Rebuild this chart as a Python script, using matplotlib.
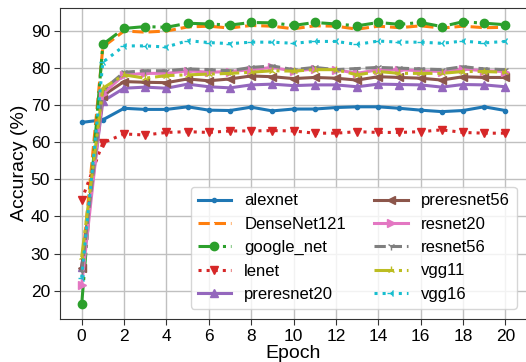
import matplotlib.pyplot as plt
import numpy as np

plt.rcParams['font.family'] = ['Liberation Sans', 'DejaVu Sans']

epochs = np.arange(21)

alexnet = [65.3, 66.0, 69.1, 68.8, 68.8, 69.5, 68.6, 68.5, 69.4, 68.4, 68.9,
           68.9, 69.3, 69.5, 69.5, 69.1, 68.6, 68.2, 68.5, 69.5, 68.5]
densenet121 = [25.5, 85.6, 89.9, 89.6, 89.9, 91.0, 91.2, 90.7, 91.4, 91.2, 90.5,
               91.3, 91.2, 90.4, 91.2, 90.8, 91.3, 90.7, 91.2, 90.8, 90.9]
google_net = [16.3, 86.3, 90.6, 91.1, 90.9, 92.0, 91.8, 91.5, 92.2, 92.1, 91.4,
              92.2, 91.8, 91.3, 92.2, 91.7, 92.2, 91.1, 92.4, 92.0, 91.6]
lenet = [44.4, 59.8, 62.2, 61.9, 62.6, 62.8, 62.6, 63.0, 63.0, 63.1, 63.0,
         62.4, 62.4, 62.8, 62.6, 62.6, 62.8, 63.3, 62.6, 62.4, 62.4]
preresnet20 = [26.5, 71.0, 74.5, 74.8, 74.5, 75.6, 74.9, 74.6, 75.4, 75.6, 75.2,
               75.4, 75.4, 74.9, 75.6, 75.5, 75.4, 74.8, 75.5, 75.4, 74.9]
preresnet56 = [26.0, 72.5, 76.3, 76.1, 76.0, 77.0, 76.5, 77.0, 77.8, 77.6, 77.1,
               77.4, 77.2, 76.7, 77.6, 77.4, 77.2, 76.7, 77.6, 77.4, 77.4]
resnet20 = [21.5, 73.0, 78.1, 78.5, 78.5, 79.2, 78.8, 79.0, 79.5, 80.1, 79.1,
            79.7, 79.5, 78.5, 79.5, 79.5, 79.2, 79.0, 79.7, 79.2, 79.0]
resnet56 = [25.0, 74.0, 78.8, 79.2, 79.2, 79.7, 79.5, 79.2, 80.1, 80.5, 79.5,
            80.1, 79.5, 79.8, 80.1, 79.9, 79.7, 79.5, 80.3, 79.7, 79.5]
vgg11 = [29.0, 74.5, 78.1, 77.2, 77.9, 78.1, 78.3, 78.5, 78.8, 79.2, 79.1,
         79.5, 79.5, 78.1, 79.0, 78.5, 78.5, 78.5, 79.0, 79.0, 78.8]
vgg16 = [23.5, 81.5, 85.9, 85.9, 85.6, 87.3, 86.8, 86.5, 86.9, 86.9, 86.6,
         87.1, 87.1, 86.3, 87.2, 86.9, 86.9, 86.6, 87.2, 86.7, 87.1]

series = [
    ('alexnet', alexnet, '-', '.'),
    ('DenseNet121', densenet121, '--', ','),
    ('google_net', google_net, '-.', 'o'),
    ('lenet', lenet, ':', 'v'),
    ('preresnet20', preresnet20, '-', '^'),
    ('preresnet56', preresnet56, '-', '<'),
    ('resnet20', resnet20, '-', '>'),
    ('resnet56', resnet56, '--', '1'),
    ('vgg11', vgg11, '-.', '2'),
    ('vgg16', vgg16, ':', '3'),
]

fig = plt.figure(figsize=(5.26, 3.62), dpi=100)
ax = fig.add_axes([0.115, 0.12, 0.886, 0.859])

for name, vals, ls, mk in series:
    ax.plot(epochs, vals, linestyle=ls, marker=mk, linewidth=2.2, markersize=6, label=name)

ax.set_xticks(np.arange(0, 21, 2))
ax.set_yticks(np.arange(20, 91, 10))
ax.grid(True, color='#c0c0c0', linewidth=1)
ax.set_axisbelow(True)
for s in ax.spines.values():
    s.set_color('#333333')
ax.tick_params(labelsize=12.5, length=4, color='#333333')
ax.set_xlabel('Epoch', fontsize=14, labelpad=1)
ax.set_ylabel('Accuracy (%)', fontsize=14, labelpad=2)
ax.legend(loc='lower right', ncol=2, fontsize=12, columnspacing=1.7,
          labelspacing=0.5, borderaxespad=0.6, handlelength=2.0)

plt.savefig('out.png', dpi=100)
